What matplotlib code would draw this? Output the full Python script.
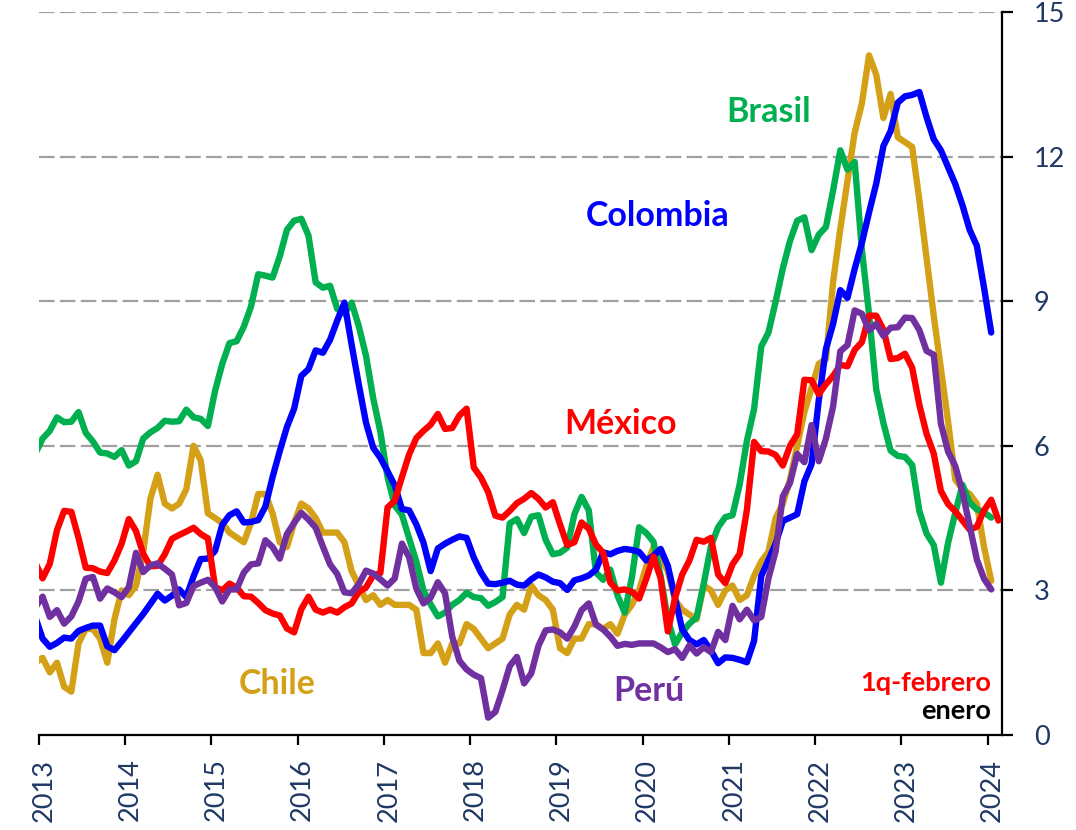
import matplotlib
matplotlib.use('Agg')
import matplotlib.pyplot as plt
import matplotlib.transforms as mtransforms
import numpy as np
import pandas as pd

plt.rcParams['font.family'] = ['Lato', 'DejaVu Sans']

# ---------------- data (annual inflation, %) ----------------
months = pd.period_range('2012-12', '2024-01', freq='M')      # Dec-2012 .. Jan-2024
months_mx = pd.period_range('2012-12', '2024-02', freq='M')   # Mexico up to 1q-Feb-2024

brasil = [5.84,
          6.15, 6.31, 6.59, 6.49, 6.50, 6.70, 6.27, 6.09, 5.86, 5.84, 5.77, 5.91,
          5.59, 5.68, 6.15, 6.28, 6.37, 6.52, 6.50, 6.51, 6.75, 6.59, 6.56, 6.41,
          7.14, 7.70, 8.13, 8.17, 8.47, 8.89, 9.56, 9.53, 9.49, 9.93, 10.48, 10.67,
          10.71, 10.36, 9.39, 9.28, 9.32, 8.84, 8.74, 8.97, 8.48, 7.87, 6.99, 6.29,
          5.35, 4.76, 4.57, 4.08, 3.60, 3.00, 2.71, 2.46, 2.54, 2.70, 2.80, 2.95,
          2.86, 2.84, 2.68, 2.76, 2.86, 4.39, 4.48, 4.19, 4.53, 4.56, 4.05, 3.75,
          3.78, 3.89, 4.58, 4.94, 4.66, 3.37, 3.22, 3.43, 2.89, 2.54, 3.27, 4.31,
          4.19, 4.01, 3.30, 2.40, 1.88, 2.13, 2.31, 2.44, 3.14, 3.92, 4.31, 4.52,
          4.56, 5.20, 6.10, 6.76, 8.06, 8.35, 8.99, 9.68, 10.25, 10.67, 10.74, 10.06,
          10.38, 10.54, 11.30, 12.13, 11.73, 11.89, 10.07, 8.73, 7.17, 6.47, 5.90, 5.79,
          5.77, 5.60, 4.65, 4.18, 3.94, 3.16, 3.99, 4.61, 5.19, 4.82, 4.68, 4.62,
          4.51]

colombia = [2.44,
            2.00, 1.83, 1.91, 2.02, 2.00, 2.16, 2.22, 2.27, 2.27, 1.84, 1.76, 1.94,
            2.13, 2.32, 2.51, 2.72, 2.93, 2.79, 2.89, 3.02, 2.86, 3.29, 3.65, 3.66,
            3.82, 4.36, 4.56, 4.64, 4.41, 4.42, 4.46, 4.74, 5.35, 5.89, 6.39, 6.77,
            7.45, 7.59, 7.98, 7.93, 8.20, 8.60, 8.97, 8.10, 7.27, 6.48, 5.96, 5.75,
            5.47, 5.18, 4.69, 4.66, 4.37, 3.99, 3.40, 3.87, 3.97, 4.05, 4.12, 4.09,
            3.68, 3.37, 3.14, 3.13, 3.16, 3.20, 3.12, 3.10, 3.23, 3.33, 3.27, 3.18,
            3.15, 3.01, 3.21, 3.25, 3.31, 3.43, 3.79, 3.75, 3.82, 3.86, 3.84, 3.80,
            3.62, 3.72, 3.86, 3.51, 2.85, 2.19, 1.97, 1.88, 1.97, 1.75, 1.49, 1.61,
            1.60, 1.56, 1.51, 1.95, 3.30, 3.63, 3.97, 4.44, 4.51, 4.58, 5.26, 5.62,
            6.94, 8.01, 8.53, 9.23, 9.07, 9.67, 10.21, 10.84, 11.44, 12.22, 12.53, 13.12,
            13.25, 13.28, 13.34, 12.82, 12.36, 12.13, 11.78, 11.43, 10.99, 10.48, 10.15, 9.28,
            8.35]

mexico = [3.57,
          3.25, 3.55, 4.25, 4.65, 4.63, 4.09, 3.47, 3.46, 3.39, 3.36, 3.62, 3.97,
          4.48, 4.23, 3.76, 3.50, 3.51, 3.75, 4.07, 4.15, 4.22, 4.30, 4.17, 4.08,
          3.07, 3.00, 3.14, 3.06, 2.88, 2.87, 2.74, 2.59, 2.52, 2.48, 2.21, 2.13,
          2.61, 2.87, 2.60, 2.54, 2.60, 2.54, 2.65, 2.73, 2.97, 3.06, 3.31, 3.36,
          4.72, 4.86, 5.35, 5.82, 6.16, 6.31, 6.44, 6.66, 6.35, 6.37, 6.63, 6.77,
          5.55, 5.34, 5.04, 4.55, 4.51, 4.65, 4.81, 4.90, 5.02, 4.90, 4.72, 4.83,
          4.37, 3.94, 4.00, 4.41, 4.28, 3.95, 3.78, 3.16, 3.00, 3.02, 2.97, 2.83,
          3.24, 3.70, 3.25, 2.15, 2.84, 3.33, 3.62, 4.05, 4.01, 4.09, 3.33, 3.15,
          3.54, 3.76, 4.67, 6.08, 5.89, 5.88, 5.81, 5.59, 6.00, 6.24, 7.37, 7.36,
          7.07, 7.28, 7.45, 7.68, 7.65, 7.99, 8.15, 8.70, 8.70, 8.41, 7.80, 7.82,
          7.91, 7.62, 6.85, 6.25, 5.84, 5.06, 4.79, 4.64, 4.45, 4.26, 4.32, 4.66,
          4.88, 4.45]

chile = [1.5,
         1.6, 1.3, 1.5, 1.0, 0.9, 1.9, 2.2, 2.2, 2.0, 1.5, 2.4, 3.0,
         2.9, 3.1, 3.8, 4.9, 5.4, 4.8, 4.7, 4.8, 5.1, 6.0, 5.7, 4.6,
         4.5, 4.4, 4.2, 4.1, 4.0, 4.4, 5.0, 5.0, 4.6, 4.0, 3.9, 4.4,
         4.8, 4.7, 4.5, 4.2, 4.2, 4.2, 4.0, 3.4, 3.1, 2.8, 2.9, 2.7,
         2.8, 2.7, 2.7, 2.7, 2.6, 1.7, 1.7, 1.9, 1.5, 1.9, 1.9, 2.3,
         2.2, 2.0, 1.8, 1.9, 2.0, 2.5, 2.7, 2.6, 3.1, 2.9, 2.8, 2.6,
         1.8, 1.7, 2.0, 2.0, 2.3, 2.3, 2.2, 2.3, 2.1, 2.5, 2.7, 3.0,
         3.5, 3.9, 3.7, 3.4, 2.8, 2.6, 2.5, 2.4, 3.1, 3.0, 2.7, 3.0,
         3.1, 2.8, 2.9, 3.3, 3.6, 3.8, 4.5, 4.8, 5.3, 6.0, 6.7, 7.2,
         7.7, 7.8, 9.4, 10.5, 11.5, 12.5, 13.1, 14.1, 13.7, 12.8, 13.3, 12.4,
         12.3, 12.2, 11.1, 9.9, 8.7, 7.6, 6.5, 5.3, 5.1, 5.0, 4.8, 3.9,
         3.2]

peru = [2.65,
        2.87, 2.45, 2.59, 2.31, 2.46, 2.77, 3.24, 3.28, 2.83, 3.04, 2.96, 2.86,
        3.07, 3.78, 3.38, 3.52, 3.56, 3.45, 3.33, 2.69, 2.74, 3.09, 3.16, 3.22,
        3.07, 2.77, 3.02, 3.02, 3.37, 3.54, 3.56, 4.04, 3.90, 3.66, 4.17, 4.40,
        4.61, 4.47, 4.30, 3.91, 3.54, 3.34, 2.96, 2.94, 3.13, 3.41, 3.35, 3.23,
        3.10, 3.25, 3.97, 3.69, 3.04, 2.73, 2.85, 3.17, 2.94, 2.04, 1.54, 1.36,
        1.25, 1.18, 0.36, 0.48, 0.93, 1.43, 1.62, 1.07, 1.28, 1.85, 2.17, 2.19,
        2.13, 2.00, 2.25, 2.59, 2.73, 2.29, 2.19, 2.04, 1.85, 1.89, 1.87, 1.90,
        1.90, 1.90, 1.82, 1.72, 1.78, 1.60, 1.86, 1.69, 1.82, 1.72, 2.14, 1.97,
        2.68, 2.40, 2.60, 2.38, 2.45, 3.25, 3.81, 4.95, 5.23, 5.83, 5.66, 6.43,
        5.68, 6.15, 6.82, 7.96, 8.09, 8.81, 8.74, 8.40, 8.53, 8.28, 8.45, 8.46,
        8.66, 8.65, 8.40, 7.97, 7.89, 6.46, 5.88, 5.58, 5.04, 4.34, 3.64, 3.24,
        3.02]

years = list(range(2013, 2025))
year_labels = [str(y) for y in years]
y_ticks = [0, 3, 6, 9, 12, 15]

# ---------------- styles ----------------
C_BRA = '#00B050'
C_COL = '#0000FF'
C_MEX = '#FF0000'
C_CHL = '#D4A017'
C_PER = '#7030A0'
TXT = '#1F3864'
LW = 4.6


def xpos(periods):
    return np.array([(p.year - 2013) * 12 + (p.month - 1) + 0.5 for p in periods])


fig = plt.figure(figsize=(10.76, 8.30), dpi=100)
ax = fig.add_axes([39 / 1076, 1 - 735 / 830, (1002 - 39) / 1076, (735 - 12) / 830])

x = xpos(months)
x_mx = xpos(months_mx)

kw = dict(lw=LW, solid_joinstyle='round', solid_capstyle='round', zorder=3)
ax.plot(x, chile, color=C_CHL, **kw)
ax.plot(x, brasil, color=C_BRA, **kw)
ax.plot(x, colombia, color=C_COL, **kw)
ax.plot(x_mx, mexico, color=C_MEX, **kw)
ax.plot(x, peru, color=C_PER, **kw)

ax.set_xlim(0, 134)
ax.set_ylim(0, 15)

# grid
for yv in y_ticks[1:]:
    ax.axhline(yv, color='#A0A0A0', lw=1.6, linestyle=(0, (7.0, 2.4)), zorder=1)

# spines
for s in ['left', 'top']:
    ax.spines[s].set_visible(False)
for s in ['bottom', 'right']:
    ax.spines[s].set_linewidth(1.6)
    ax.spines[s].set_color('black')

# y axis on the right
ax.yaxis.tick_right()
ax.set_yticks(y_ticks)
ax.set_yticklabels([str(v) for v in y_ticks])
ax.tick_params(axis='y', which='major', direction='out', length=8, width=1.6,
               pad=15, labelsize=19.5, labelcolor=TXT, color='black')

ax.set_xticks([(yy - 2013) * 12 for yy in years])
ax.set_xticklabels(year_labels, rotation=90, va='top', ha='center')
ax.tick_params(axis='x', which='major', direction='out', length=7, width=1.6,
               pad=10, labelsize=19.5, labelcolor=TXT, color='black')
offset = mtransforms.ScaledTranslation(5 / 100, 0, fig.dpi_scale_trans)
for lab in ax.get_xticklabels():
    lab.set_transform(lab.get_transform() + offset)

# series labels
lab_fs = 24.5
ax.text(101.5, 12.93, 'Brasil', color=C_BRA, fontsize=lab_fs, fontweight='bold', ha='center', va='center')
ax.text(86.1, 10.77, 'Colombia', color=C_COL, fontsize=lab_fs, fontweight='bold', ha='center', va='center')
ax.text(80.9, 6.45, 'México', color=C_MEX, fontsize=lab_fs, fontweight='bold', ha='center', va='center')
ax.text(33.1, 1.06, 'Chile', color=C_CHL, fontsize=lab_fs, fontweight='bold', ha='center', va='center')
ax.text(84.8, 0.91, 'Perú', color=C_PER, fontsize=lab_fs, fontweight='bold', ha='center', va='center')
ax.text(132.45, 1.08, '1q-febrero', color=C_MEX, fontsize=19.5, fontweight='bold', ha='right', va='center')
ax.text(132.45, 0.50, 'enero', color='black', fontsize=19.5, fontweight='bold', ha='right', va='center')

fig.savefig('out.png', dpi=100)
